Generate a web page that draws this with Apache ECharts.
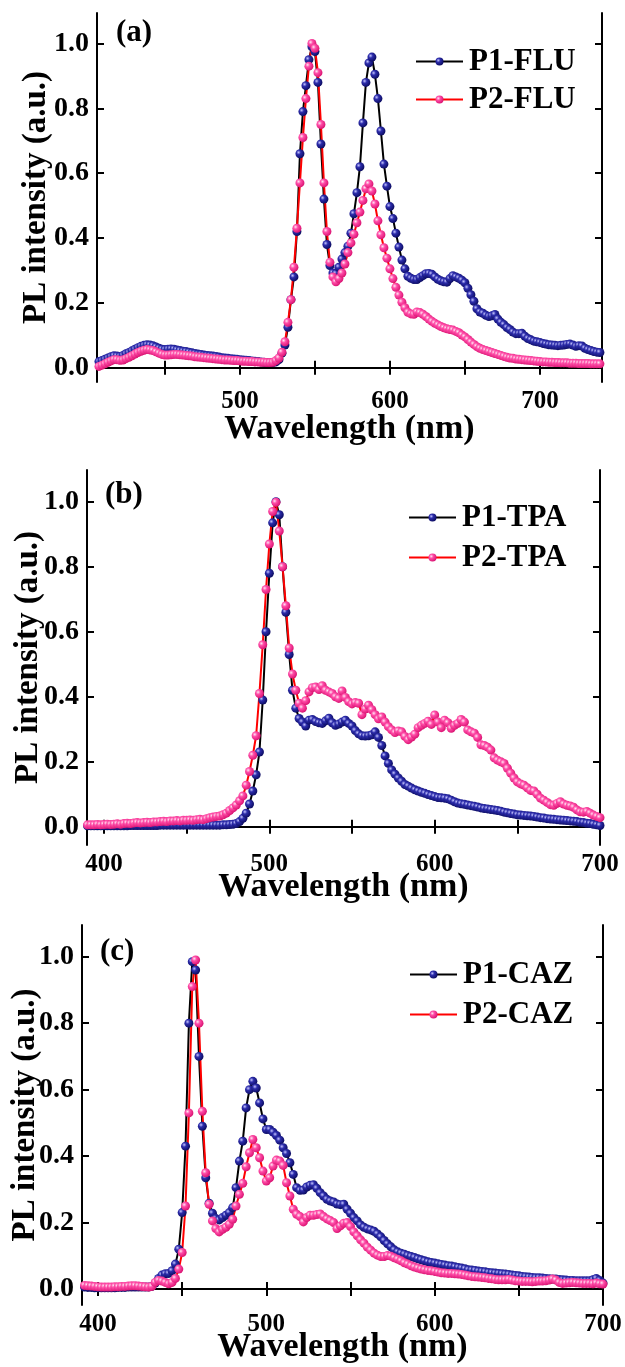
<!DOCTYPE html>
<html><head><meta charset="utf-8">
<script src="https://cdn.jsdelivr.net/npm/echarts@6/dist/echarts.min.js"></script>
<style>html,body{margin:0;padding:0;background:#fff}#c{width:625px;height:1367px}</style>
</head><body><div id="c"></div>
<script>
// ---------- Data ----------
const WL_A = [406,408,410,412,414,416,418,420,422,424,426,428,430,432,434,436,438,440,442,444,446,448,450,452,454,456,458,460,462,464,466,468,470,472,474,476,478,480,482,484,486,488,490,492,494,496,498,500,502,504,506,508,510,512,514,516,518,520,522,524,526,528,530,532,534,536,538,540,542,544,546,548,550,552,554,556,558,560,562,564,566,568,570,572,574,576,578,580,582,584,586,588,590,592,594,596,598,600,602,604,606,608,610,612,614,616,618,620,622,624,626,628,630,632,634,636,638,640,642,644,646,648,650,652,654,656,658,660,662,664,666,668,670,672,674,676,678,680,682,684,686,688,690,692,694,696,698,700,702,704,706,708,710,712,714,716,718,720,722,724,726,728,730,732,734,736,738,740];
const P1_FLU = [
0.019,0.022,0.026,0.030,0.034,0.037,0.036,0.035,0.038,0.043,
0.047,0.052,0.057,0.062,0.066,0.069,0.071,0.070,0.068,0.064,
0.060,0.057,0.056,0.057,0.058,0.057,0.055,0.053,0.051,0.050,
0.048,0.046,0.044,0.042,0.041,0.039,0.038,0.037,0.036,0.035,
0.033,0.031,0.030,0.029,0.028,0.027,0.026,0.025,0.024,0.023,
0.022,0.021,0.020,0.019,0.018,0.017,0.016,0.016,0.016,0.018,
0.025,0.045,0.070,0.125,0.210,0.280,0.420,0.660,0.790,0.870,
0.950,0.990,0.975,0.880,0.690,0.520,0.380,0.315,0.292,0.290,
0.310,0.335,0.355,0.375,0.415,0.475,0.540,0.620,0.755,0.880,
0.940,0.958,0.905,0.830,0.730,0.628,0.560,0.497,0.460,0.415,
0.372,0.332,0.305,0.282,0.276,0.272,0.272,0.278,0.284,0.290,
0.291,0.288,0.280,0.273,0.268,0.265,0.264,0.275,0.284,0.280,
0.276,0.270,0.262,0.245,0.225,0.205,0.182,0.172,0.168,0.162,
0.158,0.160,0.164,0.150,0.140,0.133,0.124,0.118,0.110,0.105,
0.105,0.106,0.097,0.090,0.086,0.082,0.080,0.078,0.075,0.073,
0.071,0.070,0.069,0.068,0.069,0.070,0.072,0.073,0.070,0.066,
0.068,0.067,0.060,0.056,0.053,0.050,0.048,0.047];
const P2_FLU = [
0.004,0.008,0.012,0.017,0.021,0.025,0.025,0.023,0.024,0.028,
0.032,0.037,0.042,0.047,0.051,0.054,0.056,0.055,0.053,0.049,
0.045,0.041,0.039,0.039,0.040,0.041,0.041,0.040,0.039,0.038,
0.037,0.036,0.034,0.033,0.032,0.031,0.030,0.029,0.028,0.027,
0.026,0.025,0.024,0.024,0.023,0.022,0.022,0.021,0.020,0.020,
0.019,0.019,0.018,0.018,0.017,0.017,0.016,0.016,0.017,0.022,
0.030,0.048,0.080,0.140,0.210,0.310,0.430,0.570,0.710,0.830,
0.930,1.000,0.985,0.910,0.750,0.570,0.420,0.325,0.280,0.265,
0.275,0.292,0.320,0.355,0.385,0.412,0.447,0.480,0.516,0.552,
0.567,0.545,0.505,0.453,0.410,0.370,0.338,0.305,0.275,0.248,
0.224,0.202,0.185,0.171,0.166,0.165,0.172,0.170,0.165,0.158,
0.150,0.143,0.137,0.132,0.127,0.123,0.120,0.118,0.116,0.112,
0.108,0.101,0.095,0.087,0.079,0.072,0.065,0.060,0.056,0.053,
0.050,0.047,0.044,0.041,0.038,0.035,0.032,0.030,0.029,0.027,
0.026,0.025,0.024,0.023,0.022,0.021,0.020,0.019,0.018,0.018,
0.017,0.017,0.016,0.016,0.015,0.015,0.015,0.014,0.014,0.014,
0.013,0.013,0.013,0.013,0.012,0.012,0.012,0.012];

const WL_B = [390,392,394,396,398,400,402,404,406,408,410,412,414,416,418,420,422,424,426,428,430,432,434,436,438,440,442,444,446,448,450,452,454,456,458,460,462,464,466,468,470,472,474,476,478,480,482,484,486,488,490,492,494,496,498,500,502,504,506,508,510,512,514,516,518,520,522,524,526,528,530,532,534,536,538,540,542,544,546,548,550,552,554,556,558,560,562,564,566,568,570,572,574,576,578,580,582,584,586,588,590,592,594,596,598,600,602,604,606,608,610,612,614,616,618,620,622,624,626,628,630,632,634,636,638,640,642,644,646,648,650,652,654,656,658,660,662,664,666,668,670,672,674,676,678,680,682,684,686,688,690,692,694,696,698,700];
const P1_TPA = [
0.003,0.003,0.003,0.003,0.003,0.003,0.003,0.003,0.003,0.003,
0.003,0.003,0.003,0.004,0.004,0.004,0.004,0.004,0.004,0.004,
0.004,0.004,0.005,0.005,0.005,0.005,0.005,0.005,0.005,0.005,
0.005,0.005,0.005,0.005,0.005,0.005,0.005,0.005,0.005,0.005,
0.005,0.006,0.006,0.007,0.008,0.010,0.016,0.026,0.042,0.070,
0.110,0.160,0.230,0.390,0.600,0.780,0.935,1.000,0.960,0.800,
0.660,0.530,0.420,0.365,0.333,0.322,0.310,0.328,0.330,0.324,
0.320,0.318,0.326,0.334,0.320,0.312,0.316,0.322,0.328,0.318,
0.310,0.296,0.286,0.280,0.279,0.280,0.283,0.292,0.275,0.250,
0.218,0.195,0.175,0.162,0.150,0.140,0.130,0.125,0.119,0.114,
0.110,0.106,0.103,0.099,0.096,0.093,0.090,0.089,0.088,0.086,
0.082,0.077,0.073,0.071,0.069,0.067,0.065,0.063,0.061,0.058,
0.056,0.055,0.053,0.052,0.050,0.048,0.045,0.043,0.041,0.039,
0.037,0.036,0.035,0.034,0.033,0.032,0.030,0.028,0.027,0.025,
0.024,0.023,0.022,0.021,0.020,0.019,0.018,0.017,0.016,0.014,
0.013,0.011,0.010,0.008,0.006,0.004];
const P2_TPA = [
0.006,0.006,0.006,0.007,0.006,0.007,0.008,0.007,0.008,0.009,
0.008,0.010,0.011,0.010,0.012,0.013,0.012,0.013,0.014,0.013,
0.015,0.015,0.016,0.017,0.016,0.018,0.018,0.019,0.018,0.020,
0.020,0.021,0.020,0.022,0.023,0.022,0.025,0.028,0.030,0.032,
0.033,0.037,0.042,0.050,0.058,0.067,0.080,0.095,0.128,0.170,
0.220,0.280,0.410,0.560,0.730,0.870,0.970,0.998,0.910,0.800,
0.680,0.550,0.470,0.420,0.380,0.365,0.388,0.415,0.428,0.430,
0.422,0.434,0.420,0.415,0.410,0.400,0.395,0.418,0.398,0.385,
0.378,0.382,0.380,0.345,0.362,0.374,0.360,0.345,0.332,0.338,
0.322,0.308,0.298,0.290,0.295,0.292,0.278,0.268,0.276,0.285,
0.305,0.312,0.318,0.325,0.315,0.344,0.322,0.305,0.328,0.320,
0.303,0.312,0.318,0.330,0.322,0.298,0.292,0.288,0.275,0.252,
0.250,0.245,0.236,0.212,0.205,0.200,0.195,0.180,0.165,0.150,
0.138,0.132,0.128,0.120,0.112,0.110,0.100,0.088,0.082,0.075,
0.068,0.066,0.072,0.077,0.070,0.066,0.064,0.060,0.052,0.046,
0.045,0.047,0.042,0.036,0.032,0.028];

const WL_C = WL_B;
const P1_CAZ = [
0.006,0.006,0.005,0.005,0.004,0.004,0.004,0.004,0.004,0.004,
0.004,0.005,0.005,0.005,0.006,0.006,0.006,0.006,0.006,0.006,
0.006,0.008,0.018,0.032,0.042,0.046,0.047,0.055,0.075,0.120,
0.230,0.430,0.800,0.985,0.960,0.700,0.490,0.335,0.258,0.228,
0.212,0.208,0.215,0.222,0.230,0.245,0.305,0.385,0.445,0.545,
0.600,0.625,0.605,0.560,0.512,0.480,0.480,0.472,0.462,0.448,
0.425,0.408,0.380,0.345,0.305,0.297,0.298,0.307,0.312,0.314,
0.303,0.290,0.280,0.270,0.265,0.262,0.256,0.254,0.255,0.240,
0.228,0.215,0.205,0.193,0.186,0.181,0.178,0.174,0.166,0.157,
0.146,0.136,0.127,0.118,0.112,0.108,0.105,0.101,0.098,0.095,
0.091,0.088,0.085,0.082,0.080,0.078,0.076,0.074,0.072,0.070,
0.069,0.067,0.065,0.063,0.061,0.058,0.057,0.056,0.054,0.053,
0.052,0.050,0.049,0.048,0.047,0.046,0.045,0.044,0.042,0.041,
0.040,0.038,0.037,0.036,0.035,0.034,0.034,0.033,0.032,0.031,
0.030,0.030,0.029,0.028,0.027,0.026,0.026,0.025,0.025,0.025,
0.025,0.025,0.028,0.032,0.026,0.018];
const P2_CAZ = [
0.012,0.011,0.010,0.009,0.008,0.007,0.006,0.006,0.006,0.006,
0.007,0.007,0.008,0.008,0.009,0.010,0.010,0.009,0.008,0.007,
0.006,0.008,0.020,0.026,0.024,0.020,0.016,0.020,0.032,0.060,
0.110,0.250,0.530,0.910,0.990,0.800,0.535,0.350,0.255,0.205,
0.182,0.172,0.180,0.186,0.195,0.210,0.250,0.285,0.318,0.368,
0.410,0.450,0.425,0.395,0.355,0.325,0.335,0.370,0.388,0.385,
0.372,0.320,0.280,0.240,0.225,0.218,0.202,0.215,0.222,0.222,
0.224,0.226,0.218,0.211,0.206,0.200,0.182,0.190,0.198,0.200,
0.188,0.172,0.160,0.148,0.138,0.126,0.117,0.108,0.102,0.098,
0.098,0.101,0.099,0.094,0.090,0.085,0.079,0.075,0.070,0.066,
0.063,0.060,0.058,0.056,0.055,0.053,0.051,0.049,0.048,0.047,
0.047,0.046,0.045,0.044,0.042,0.040,0.038,0.037,0.036,0.035,
0.034,0.032,0.031,0.029,0.028,0.028,0.028,0.029,0.027,0.025,
0.024,0.023,0.023,0.023,0.022,0.023,0.024,0.024,0.025,0.027,
0.030,0.027,0.020,0.017,0.018,0.019,0.020,0.019,0.018,0.017,
0.017,0.017,0.016,0.018,0.016,0.015];

const X_TICKS_A = [450,500,550,600,650,700];
const X_LABELS_A = [500,600,700];
const X_TICKS_BC = [400,450,500,550,600,650,700];
const X_LABELS_BC = [400,500,600,700];
const Y_TICKS = [0,0.2,0.4,0.6,0.8,1.0];

// ---------- Styling ----------
const FONT = '"Liberation Serif","Times New Roman",serif';
const blueBall = {type:'radial',x:0.35,y:0.35,r:0.7,colorStops:[{offset:0,color:'#c4c4ff'},{offset:0.35,color:'#2c2cab'},{offset:1,color:'#0a0a5e'}]};
const pinkBall = {type:'radial',x:0.35,y:0.35,r:0.7,colorStops:[{offset:0,color:'#ffe6f3'},{offset:0.35,color:'#ff4da8'},{offset:1,color:'#d8106f'}]};

const panels = [
  {grid:{left:97,top:13,width:505,height:369}, xMin:404.7, xMax:741.4, yMin:-0.044, yMax:1.094,
   xt:X_TICKS_A, xl:X_LABELS_A, wl:WL_A, s1:P1_FLU, s2:P2_FLU, n1:'P1-FLU', n2:'P2-FLU',
   leg:{left:415, top:46, gap:7}, tag:'(a)', tagPos:[116,17], yGap:44, xGap:30},
  {grid:{left:87,top:470,width:513,height:375}, xMin:389.7, xMax:700, yMin:-0.056, yMax:1.0975,
   xt:X_TICKS_BC, xl:X_LABELS_BC, wl:WL_B, s1:P1_TPA, s2:P2_TPA, n1:'P1-TPA', n2:'P2-TPA',
   leg:{left:408, top:502, gap:9}, tag:'(b)', tagPos:[105,479], yGap:42, xGap:25},
  {grid:{left:82,top:925,width:521,height:380}, xMin:390.5, xMax:700, yMin:-0.048, yMax:1.0954,
   xt:X_TICKS_BC, xl:X_LABELS_BC, wl:WL_C, s1:P1_CAZ, s2:P2_CAZ, n1:'P1-CAZ', n2:'P2-CAZ',
   leg:{left:409, top:959, gap:9}, tag:'(c)', tagPos:[100,936], yGap:40, xGap:25}
];

const grid=[], xAxis=[], yAxis=[], series=[], legend=[], graphic=[];
const axisLine = {show:true, lineStyle:{color:'#000', width:2}};
panels.forEach((p,k)=>{
  grid.push(Object.assign({containLabel:false}, p.grid));
  const xb = {type:'value', gridIndex:k, position:'bottom', min:p.xMin, max:p.xMax,
    axisLine, splitLine:{show:false},
    axisTick:{show:true, inside:true, length:7, lineStyle:{width:2,color:'#000'}, customValues:p.xt},
    axisLabel:{show:true, customValues:p.xl, margin:7, color:'#000', fontFamily:FONT, fontWeight:'bold', fontSize:25,
      alignMinLabel:'center', alignMaxLabel:'center', hideOverlap:false},
    name:'Wavelength (nm)', nameLocation:'middle', nameGap:p.xGap, nameMoveOverlap:false,
    nameTextStyle:{color:'#000', fontFamily:FONT, fontWeight:'bold', fontSize:34}};
  const xt = {type:'value', gridIndex:k, position:'top', min:p.xMin, max:p.xMax,
    axisLine, splitLine:{show:false},
    axisTick:{show:true, inside:true, length:7, lineStyle:{width:2,color:'#000'}, customValues:p.xt},
    axisLabel:{show:false}};
  const yl = {type:'value', gridIndex:k, position:'left', min:p.yMin, max:p.yMax,
    axisLine, splitLine:{show:false},
    axisTick:{show:true, inside:true, length:7, lineStyle:{width:2,color:'#000'}, customValues:Y_TICKS},
    axisLabel:{show:true, customValues:Y_TICKS, margin:8, color:'#000', fontFamily:FONT, fontWeight:'bold', fontSize:28,
      formatter:v=>Number(v).toFixed(1)},
    name:'PL intensity (a.u.)', nameLocation:'middle', nameGap:p.yGap, nameMoveOverlap:false,
    nameTextStyle:{color:'#000', fontFamily:FONT, fontWeight:'bold', fontSize:33}};
  const yr = {type:'value', gridIndex:k, position:'right', min:p.yMin, max:p.yMax,
    axisLine, splitLine:{show:false},
    axisTick:{show:true, inside:true, length:7, lineStyle:{width:2,color:'#000'}, customValues:Y_TICKS},
    axisLabel:{show:false}};
  xAxis.push(xb, xt); yAxis.push(yl, yr);
  const mk = (name, wl, vals, lineColor, ball)=>({
    type:'line', name, xAxisIndex:2*k, yAxisIndex:2*k,
    data: vals.map((v,i)=>[wl[i], v]),
    symbol:'circle', symbolSize:9, showSymbol:true,
    lineStyle:{color:lineColor, width:2},
    itemStyle:{color:ball, borderWidth:0},
    emphasis:{disabled:true}, animation:false
  });
  series.push(mk(p.n1, p.wl, p.s1, '#000000', blueBall));
  series.push(mk(p.n2, p.wl, p.s2, '#ff0000', pinkBall));
  legend.push({data:[p.n1,p.n2], orient:'vertical', left:p.leg.left, top:p.leg.top, padding:0,
    itemGap:p.leg.gap, itemWidth:47, itemHeight:10, selectedMode:false,
    textStyle:{color:'#000', fontFamily:FONT, fontWeight:'bold', fontSize:31, padding:[0,0,0,1]}});
  graphic.push({type:'text', left:p.tagPos[0], top:p.tagPos[1], style:{text:p.tag, fill:'#000', font:'bold 31px '+FONT}});
});

const chart = echarts.init(document.getElementById('c'), null, {renderer:'canvas'});
chart.setOption({animation:false, backgroundColor:'#fff', grid, xAxis, yAxis, series, legend, graphic});
</script></body></html>
